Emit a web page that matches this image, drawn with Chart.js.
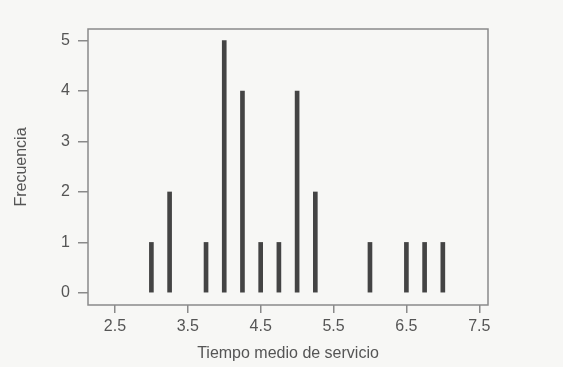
<!DOCTYPE html>
<html>
<head>
<meta charset="utf-8">
<script src="https://cdn.jsdelivr.net/npm/chart.js@4"></script>
<style>
  html, body { margin: 0; padding: 0; background: #f7f7f5; }
  #wrap { width: 563px; height: 367px; }
</style>
</head>
<body>
<div id="wrap"><canvas id="Chart" width="563" height="367"></canvas></div>
<script>
// tiempo medio de servicio y su frecuencia
var tiempos = [3.0, 3.25, 3.75, 4.0, 4.25, 4.5, 4.75, 5.0, 5.25, 6.0, 6.5, 6.75, 7.0];
var frecuencia = [1, 2, 1, 5, 4, 1, 1, 4, 2, 1, 1, 1, 1];
var xTicks = [2.5, 3.5, 4.5, 5.5, 6.5, 7.5];
var yTicks = [0, 1, 2, 3, 4, 5];

var fuente = "'Liberation Sans Narrow', 'Liberation Sans', Arial, sans-serif";
var gris = '#8a8a8a';

var puntos = [];
for (let i = 0; i < tiempos.length; i++) {
    puntos.push({x: tiempos[i], y: frecuencia[i]});
}

/* marco alrededor del area */
var marco = {
    id: 'marco',
    afterDraw: function(chart) {
        var a = chart.chartArea;
        var c = chart.ctx;
        c.save();
        c.strokeStyle = gris;
        c.lineWidth = 1.5;
        c.strokeRect(a.left, a.top, a.right - a.left, a.bottom - a.top);
        c.restore();
    }
};

var ctx = document.getElementById('Chart');
var chart = new Chart(ctx, {
    type: 'bar',
    data: {
        datasets: [{
            label: 'Frecuencia',
            data: puntos,
            backgroundColor: '#444444',
            borderWidth: 0,
            barThickness: 4
        }]
    },
    options: {
        responsive: false,
        animation: false,
        layout: { padding: { left: 8, right: 75, top: 29, bottom: 0 } },
        plugins: { legend: { display: false }, tooltip: { enabled: false } },
        scales: {
            x: {
                type: 'linear',
                offset: false,
                min: 2.13,
                max: 7.62,
                afterBuildTicks: function(s) { s.ticks = xTicks.map(function(v){ return {value: v}; }); },
                afterFit: function(s) { s.height = 62; },
                grid: { display: true, offset: false, drawOnChartArea: false, drawTicks: true, tickLength: 8, color: gris, lineWidth: 1.5 },
                border: { display: false },
                ticks: { color: '#555', padding: 4, font: { family: fuente, size: 16 },
                    callback: function(v) { return v.toFixed(1); } },
                title: { display: true, text: 'Tiempo medio de servicio', color: '#555',
                    font: { family: fuente, size: 16 }, padding: { top: 0 } }
            },
            y: {
                min: -0.24,
                max: 5.23,
                afterBuildTicks: function(s) { s.ticks = yTicks.map(function(v){ return {value: v}; }); },
                afterFit: function(s) { s.width = 80; },
                grid: { display: true, drawOnChartArea: false, drawTicks: true, tickLength: 10, color: gris, lineWidth: 1.5 },
                border: { display: false },
                ticks: { color: '#555', padding: 8, font: { family: fuente, size: 16 } },
                title: { display: true, text: 'Frecuencia', color: '#555',
                    font: { family: fuente, size: 16 }, padding: { bottom: 10 } }
            }
        }
    },
    plugins: [marco]
});
</script>
</body>
</html>
